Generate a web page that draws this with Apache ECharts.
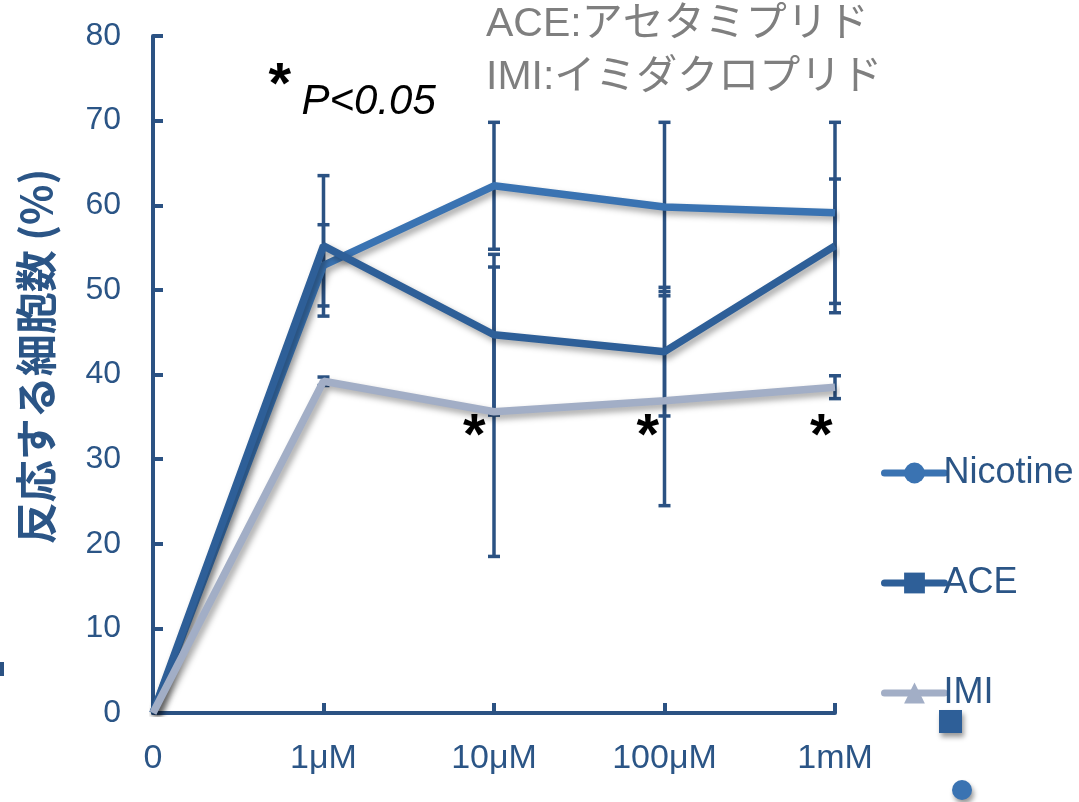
<!DOCTYPE html>
<html>
<head>
<meta charset="utf-8">
<script src="https://cdn.jsdelivr.net/npm/echarts@6/dist/echarts.min.js"></script>
<style>
html,body{margin:0;padding:0;background:#fff;}
#chart{width:1079px;height:802px;}
</style>
</head>
<body>
<div id="chart"></div>
<script>
const categories = ['0', '1μM', '10μM', '100μM', '1mM'];
const nicotine = [0, 52.9, 62.3, 59.8, 59.1];
const nicotineErr = [0, 4.8, 7.5, 10.0, 10.7];
const ace = [0, 55.2, 44.7, 42.7, 55.2];
const aceErr = [0, 8.3, 9.5, 7.6, 7.9];
const imi = [0, 39.2, 35.6, 36.9, 38.5];
const imiErr = [0, 0.5, 17.1, 12.4, 1.35];
const seriesNames = ['Nicotine', 'ACE', 'IMI'];
const yName = '反応する細胞数 (%)';
const noteLines = ['ACE:アセタミプリド', 'IMI:イミダクロプリド'];
const sigCategories = [2, 3, 4];
const sigLevel = 33.5;

const axisColor = '#2B5283';
const textColor = '#2B5586';
const colors = ['#3A73B2', '#2E5F98', '#A2AEC6'];

function errData(vals, errs) {
  return vals.map((v, i) => [i, v - errs[i], v + errs[i]]);
}
const allErr = [].concat(errData(nicotine, nicotineErr), errData(ace, aceErr), errData(imi, imiErr));

const shadow = {shadowColor: 'rgba(0,0,0,0.35)', shadowBlur: 6, shadowOffsetX: 3, shadowOffsetY: 4};

function lineSeries(name, data, color, symbol) {
  return {
    name: name, type: 'line', data: data, z: 3,
    symbol: symbol, showSymbol: false, symbolSize: 18,
    itemStyle: {color: color},
    lineStyle: Object.assign({color: color, width: 7.5}, shadow),
    emphasis: {disabled: true}, animation: false
  };
}

const chart = echarts.init(document.getElementById('chart'), null, {renderer: 'canvas'});
chart.setOption({
  animation: false,
  backgroundColor: '#fff',
  grid: {left: 153, right: 244, top: 36, bottom: 89, containLabel: false},
  xAxis: {
    type: 'category', data: categories, boundaryGap: false,
    axisLine: {lineStyle: {color: axisColor, width: 4}},
    axisTick: {inside: true, length: 10, lineStyle: {color: axisColor, width: 4}},
    axisLabel: {color: textColor, fontSize: 34, fontFamily: 'Liberation Sans', margin: 29}
  },
  yAxis: {
    type: 'value', min: 0, max: 80, interval: 10,
    name: yName, nameLocation: 'middle', nameGap: 96, nameRotate: 90,
    nameTextStyle: {color: textColor, fontSize: 42, fontWeight: 'bold', fontFamily: 'Noto Sans CJK JP', padding: [0, 0, 0, 36]},
    axisLine: {show: true, lineStyle: {color: axisColor, width: 4}},
    axisTick: {show: true, inside: true, length: 10, lineStyle: {color: axisColor, width: 4}},
    splitLine: {show: false},
    axisLabel: {color: textColor, fontSize: 32, fontFamily: 'Liberation Sans', margin: 32}
  },
  legend: {
    data: seriesNames, orient: 'vertical', left: 876, top: 450,
    itemWidth: 60, itemHeight: 26, itemGap: 74,
    lineStyle: {width: 7, cap: 'round'},
    itemStyle: {borderWidth: 0},
    textStyle: {color: textColor, fontSize: 36, fontFamily: 'Liberation Sans', padding: [0, 0, 0, -6]}
  },
  series: [
    {
      type: 'custom', name: 'err', z: 2, data: allErr, silent: true,
      renderItem: function (params, api) {
        const x = api.value(0), lo = api.value(1), hi = api.value(2);
        if (hi - lo < 1e-9) return null;
        const t = api.coord([x, hi]), b = api.coord([x, lo]);
        const hw = 6, st = {stroke: axisColor, lineWidth: 3.5};
        return {type: 'group', children: [
          {type: 'line', shape: {x1: t[0], y1: t[1], x2: b[0], y2: b[1]}, style: st},
          {type: 'line', shape: {x1: t[0] - hw, y1: t[1], x2: t[0] + hw, y2: t[1]}, style: st},
          {type: 'line', shape: {x1: b[0] - hw, y1: b[1], x2: b[0] + hw, y2: b[1]}, style: st}
        ]};
      }
    },
    lineSeries(seriesNames[0], nicotine, colors[0], 'circle'),
    lineSeries(seriesNames[1], ace, colors[1], 'rect'),
    lineSeries(seriesNames[2], imi, colors[2], 'triangle')
  ]
});

// annotations anchored to axis coordinates
const g = [];
noteLines.forEach((s, i) => {
  g.push({type: 'text', left: 486, top: 4 + i * 53, style: {text: s, fill: '#7F7F7F', font: '41px "Liberation Sans", "Noto Sans CJK JP"'}});
});
const p80 = chart.convertToPixel({xAxisIndex: 0, yAxisIndex: 0}, [1, 80]);
g.push({type: 'text', x: p80[0] - 55, y: p80[1] + 22, style: {text: '*', fill: '#000', font: 'bold 58px "Liberation Sans"'}});
g.push({type: 'text', x: p80[0] - 22, y: p80[1] + 45, style: {text: 'P<0.05', fill: '#000', font: 'italic 42px "Liberation Sans"'}});
sigCategories.forEach((c, k) => {
  const p = chart.convertToPixel({xAxisIndex: 0, yAxisIndex: 0}, [c, sigLevel]);
  g.push({type: 'text', x: p[0] - 31 + k * 3, y: p[1] - 21, style: {text: '*', fill: '#000', font: 'bold 58px "Liberation Sans"'}});
});
// stray markers seen in the reference
g.push({type: 'rect', shape: {x: 939, y: 710, width: 23, height: 23}, style: Object.assign({fill: colors[1]}, {shadowColor: 'rgba(0,0,0,0.4)', shadowBlur: 5, shadowOffsetX: 2, shadowOffsetY: 4})});
g.push({type: 'circle', shape: {cx: 962, cy: 790, r: 10}, style: Object.assign({fill: colors[0]}, {shadowColor: 'rgba(0,0,0,0.4)', shadowBlur: 5, shadowOffsetX: 2, shadowOffsetY: 4})});
g.push({type: 'rect', shape: {x: 0, y: 662, width: 4, height: 14}, style: {fill: axisColor}});
chart.setOption({graphic: g});
</script>
</body>
</html>
